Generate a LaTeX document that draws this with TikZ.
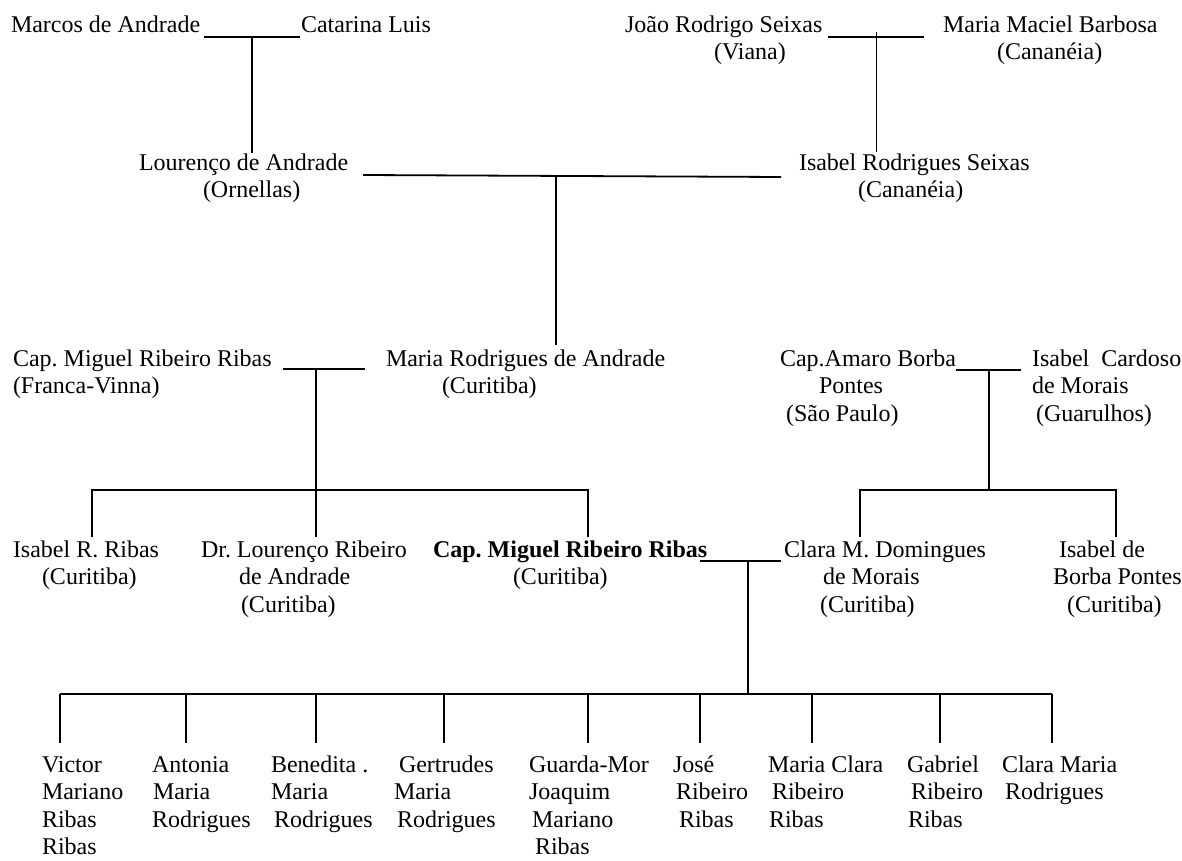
\documentclass[tikz,border=0pt]{standalone}
\usepackage{fontspec}
\setmainfont{Liberation Serif}
\frenchspacing
\begin{document}
\begin{tikzpicture}[x=1pt,y=-1pt,
  person/.style={anchor=north west,inner sep=0pt,outer sep=0pt,align=left,
                 font=\fontsize{24}{27.6}\selectfont},
  boldperson/.style={person,font=\fontsize{24}{27.6}\selectfont\bfseries},
  link/.style={line width=1.8pt},
  thinlink/.style={line width=1pt}]

\fill[white] (0,0) rectangle (1182,861);
\useasboundingbox (0,0) rectangle (1182,861);

% ---------- generation 1 ----------
\node[person] (marcos)      at (11,12.7)  {\strut Marcos de Andrade};
\node[person] (catarina)    at (301,12.7) {\strut Catarina Luis};
\node[person] (joao)        at (625,12.7) {\strut João Rodrigo Seixas\\\hspace*{89pt}(Viana)};
\node[person] (mariamaciel) at (943,12.7) {\strut Maria Maciel Barbosa\\\hspace*{54pt}(Cananéia)};

% ---------- generation 2 ----------
\node[person] (lourenco) at (139,150.7) {\strut Lourenço de Andrade\\\hspace*{64pt}(Ornellas)};
\node[person] (isabelrs) at (799,150.7) {\strut Isabel Rodrigues Seixas\\\hspace*{59pt}(Cananéia)};

% ---------- generation 3 ----------
\node[person] (miguelpai) at (13,346.7)   {\strut Cap. Miguel Ribeiro Ribas\\(Franca-Vinna)};
\node[person] (mariarod)  at (386,346.7)  {\strut Maria Rodrigues de Andrade\\\hspace*{56pt}(Curitiba)};
\node[person] (amaro)     at (780,346.7)  {\strut Cap.Amaro Borba\\\hspace*{39pt}Pontes\\\hspace*{6pt}(São Paulo)};
\node[person] (isabelcm)  at (1032,346.7) {\strut Isabel\ \ Cardoso\\de Morais\\\hspace*{4pt}(Guarulhos)};

% ---------- generation 4 ----------
\node[person]     (isabelrr)   at (13,537.7)   {\strut Isabel R. Ribas\\\hspace*{29pt}(Curitiba)};
\node[person]     (drlourenco) at (201,537.7)  {\strut Dr. Lourenço Ribeiro\\\hspace*{38pt}de Andrade\\\hspace*{40pt}(Curitiba)};
\node[boldperson] (miguel)     at (433,537.7)  {\strut Cap. Miguel Ribeiro Ribas\\\hspace*{80pt}{\mdseries (Curitiba)}};
\node[person]     (claramd)    at (784,537.7)  {\strut Clara M. Domingues\\\hspace*{39pt}de Morais\\\hspace*{36pt}(Curitiba)};
\node[person]     (isabelbp)   at (1053,537.7) {\strut\hspace*{6pt}Isabel de\\Borba Pontes\\\hspace*{14pt}(Curitiba)};

% ---------- generation 5 ----------
\node[person] (victor)     at (42,752.7)   {\strut Victor\\Mariano\\Ribas\\Ribas};
\node[person] (antonia)    at (152,752.7)  {\strut Antonia\\\hspace*{1pt}Maria\\Rodrigues};
\node[person] (benedita)   at (271,752.7)  {\strut Benedita .\\Maria\\\hspace*{3pt}Rodrigues};
\node[person] (gertrudes)  at (394,752.7)  {\strut\hspace*{5pt}Gertrudes\\Maria\\\hspace*{3pt}Rodrigues};
\node[person] (guarda)     at (529,752.7)  {\strut Guarda-Mor\\Joaquim\\\hspace*{3pt}Mariano\\\hspace*{6pt}Ribas};
\node[person] (jose)       at (673,752.7)  {\strut José\\\hspace*{3pt}Ribeiro\\\hspace*{6pt}Ribas};
\node[person] (mariaclara) at (768,752.7)  {\strut Maria Clara\\\hspace*{4pt}Ribeiro\\\hspace*{1pt}Ribas};
\node[person] (gabriel)    at (907,752.7)  {\strut Gabriel\\\hspace*{4pt}Ribeiro\\\hspace*{1pt}Ribas};
\node[person] (claramaria) at (1002,752.7) {\strut Clara Maria\\\hspace*{3pt}Rodrigues};

% ---------- junction points ----------
% Marcos + Catarina
\coordinate (u1l) at (204,37);  \coordinate (u1r) at (300,37);
\coordinate (u1m) at (252,37);  \coordinate (u1d) at (252,153);
% João + Maria Maciel
\coordinate (u2l) at (828,37);  \coordinate (u2r) at (924,37);
\coordinate (u2m) at (876,32);  \coordinate (u2d) at (876,152);
% Lourenço + Isabel Rodrigues
\coordinate (u3l) at (363,175); \coordinate (u3r) at (781,177);
\coordinate (u3m) at (556,176); \coordinate (u3d) at (556,345);
% Cap. Miguel + Maria Rodrigues
\coordinate (u4l) at (283,369); \coordinate (u4r) at (365,369);
\coordinate (u4m) at (316,369);
\coordinate (b4l) at (92,490);  \coordinate (b4m) at (316,490); \coordinate (b4r) at (588,490);
\coordinate (k4a) at (92,537);  \coordinate (k4b) at (316,537); \coordinate (k4c) at (588,537);
% Cap. Amaro + Isabel Cardoso
\coordinate (u5l) at (956,370); \coordinate (u5r) at (1021,370);
\coordinate (u5m) at (989,370); \coordinate (b5m) at (989,490);
\coordinate (b5l) at (860,490); \coordinate (b5r) at (1116,490);
\coordinate (k5a) at (860,537); \coordinate (k5b) at (1116,537);
% Cap. Miguel + Clara
\coordinate (u6l) at (700,561); \coordinate (u6r) at (781,561);
\coordinate (u6m) at (748,561); \coordinate (b6m) at (748,694);
\coordinate (b6l) at (60,694);  \coordinate (b6r) at (1052,694);
\foreach \n/\x in {1/60,2/186,3/316,4/444,5/588,6/700,7/812,8/940,9/1052}{
  \coordinate (t\n) at (\x,694);
  \coordinate (k\n) at (\x,743);
}

% ---------- connectors ----------
\draw[link] (u1l) -- (u1r);
\draw[link] (u1m) -- (u1d);
\draw[link] (u2l) -- (u2r);
\draw[thinlink] (u2m) -- (u2d);
\draw[link] (u3l) -- (u3r);
\draw[link] (u3m) -- (u3d);
\draw[link] (u4l) -- (u4r);
\draw[link] (u4m) -- (k4b);
\draw[link] (k4a) -- (b4l) -- (b4r) -- (k4c);
\draw[link] (u5l) -- (u5r);
\draw[link] (u5m) -- (b5m);
\draw[link] (k5a) -- (b5l) -- (b5r) -- (k5b);
\draw[link] (u6l) -- (u6r);
\draw[link] (u6m) -- (b6m);
\draw[link] (b6l) -- (b6r);
\foreach \n in {1,...,9}{ \draw[link] (t\n) -- (k\n); }

\end{tikzpicture}
\end{document}
